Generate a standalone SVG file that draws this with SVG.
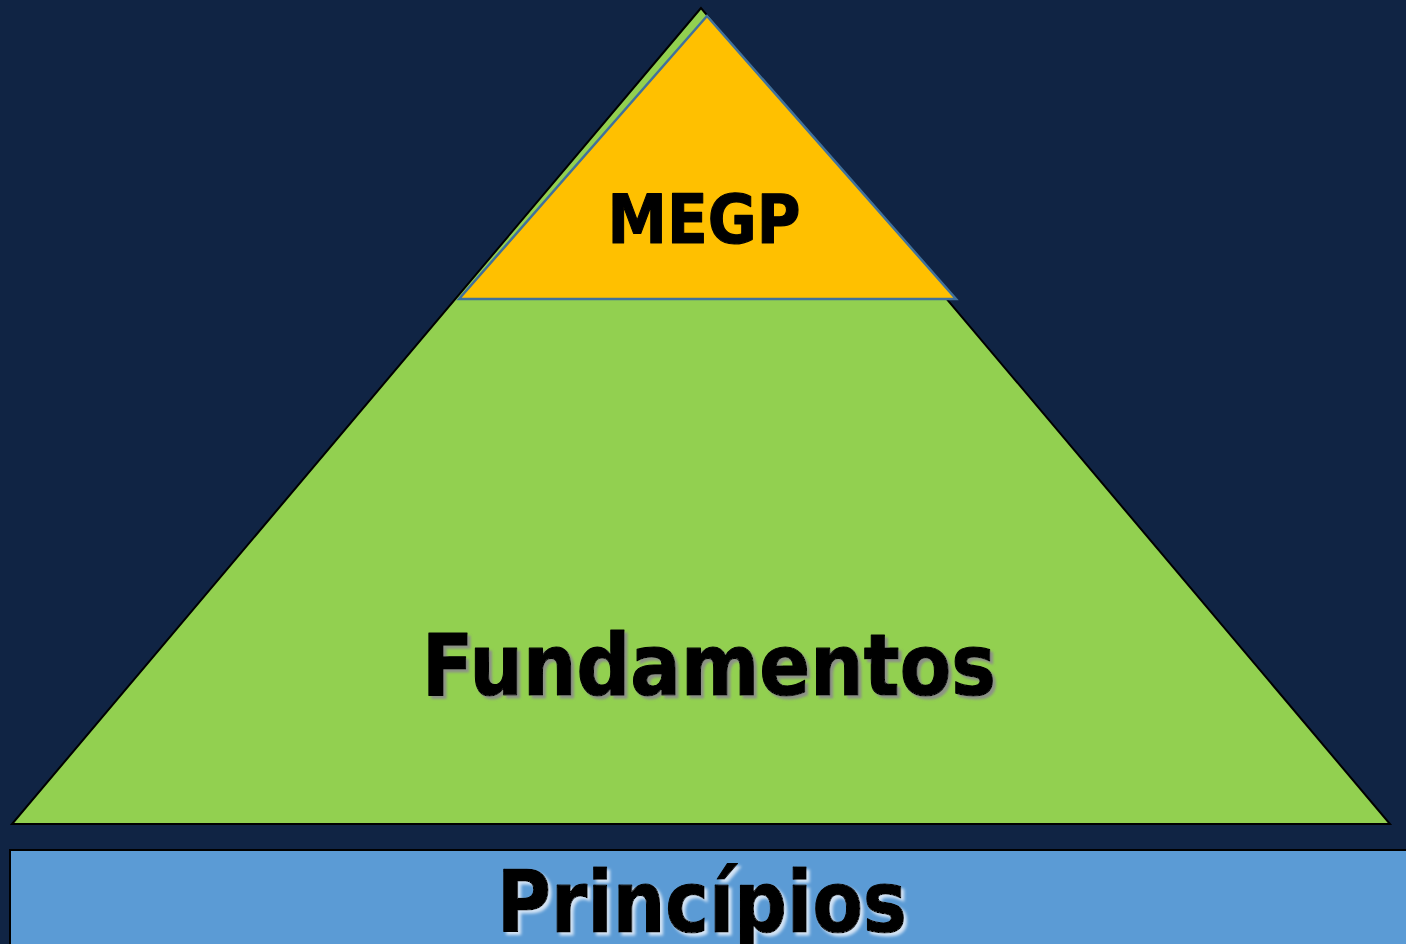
<svg xmlns="http://www.w3.org/2000/svg" width="1406" height="944" viewBox="0 0 1406 944">
<defs>
<filter id="shG" x="-5%" y="-20%" width="115%" height="150%">
<feDropShadow dx="3" dy="3" stdDeviation="1.2" flood-color="#8c8c8c" flood-opacity="0.9"/>
</filter>
<filter id="shB" x="-5%" y="-20%" width="115%" height="150%">
<feDropShadow dx="3" dy="3" stdDeviation="1.5" flood-color="#e8f0fa" flood-opacity="0.85"/>
</filter>
</defs>
<style>
.lbl{font-family:"DejaVu Sans","Liberation Sans",sans-serif;font-weight:bold;text-anchor:middle;fill:#000;stroke:#000;stroke-width:1.2;stroke-linejoin:round}
</style>
<rect x="0" y="0" width="1406" height="944" fill="#102444"/>
<g id="connectors"></g>
<g id="fundamentos">
<polygon points="701,8 12,824 1390,824" fill="#92d050" stroke="#000" stroke-width="2"/>
<text class="lbl" x="709" y="695" font-size="86" filter="url(#shG)" textLength="574" lengthAdjust="spacingAndGlyphs">Fundamentos</text>
</g>
<g id="megp">
<polygon points="707,16 459,299 956,299" fill="#ffc000" stroke="#41719c" stroke-width="2.5"/>
<text class="lbl" x="704" y="243" font-size="68" textLength="193" lengthAdjust="spacingAndGlyphs">MEGP</text>
</g>
<g id="principios">
<rect x="10" y="850" width="1410" height="110" fill="#5b9bd5" stroke="#000" stroke-width="2"/>
<text class="lbl" x="702" y="932" font-size="85" filter="url(#shB)" textLength="410" lengthAdjust="spacingAndGlyphs">Princípios</text>
</g>
</svg>
